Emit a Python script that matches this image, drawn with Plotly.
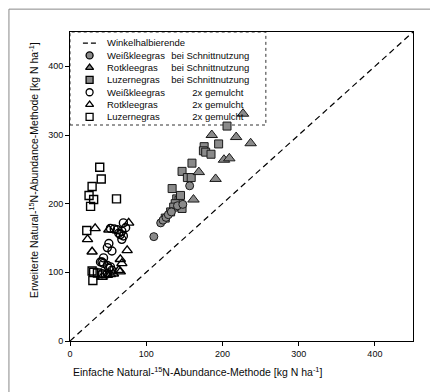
import plotly.graph_objects as go

# ---- data ----
wk_cut_x = [110, 157, 119, 122, 126, 129, 133, 141, 148]
wk_cut_y = [152, 226, 172, 176, 180, 184, 188, 197, 199]

rk_cut_x = [186, 227, 218, 237, 202, 209, 169, 191, 162]
rk_cut_y = [300, 331, 297, 288, 264, 266, 246, 236, 206]

lz_cut_x = [206, 195, 176, 175, 178, 185, 160, 147, 154, 159, 134, 140, 143, 145, 138, 136, 132, 147, 125]
lz_cut_y = [313, 287, 283, 277, 275, 272, 259, 247, 238, 238, 222, 207, 205, 212, 200, 195, 188, 193, 179]

wk_mul_x = [70, 53, 58, 62, 64, 68, 66, 70, 68, 51, 49, 55, 44, 42, 44, 49, 53, 40, 51, 55, 49, 42, 73]
wk_mul_y = [172, 164, 163, 162, 157, 160, 155, 153, 148, 142, 136, 131, 121, 115, 113, 110, 108, 115, 106, 103, 98, 98, 165]

rk_mul_x = [33, 23, 77, 51, 75, 29, 66, 68, 64, 66, 57, 49, 42, 53]
rk_mul_y = [164, 148, 172, 162, 132, 130, 119, 113, 103, 101, 98, 96, 93, 97]

lz_mul_x = [39, 41, 29, 25, 31, 27, 61, 22, 29, 31, 30, 43, 36]
lz_mul_y = [253, 236, 225, 212, 206, 196, 207, 161, 102, 100, 88, 96, 99]

diag = [0, 450]
ticks = [0, 100, 200, 300, 400]

legend_names = ["Winkelhalbierende", "Weißkleegras", "Rotkleegras", "Luzernegras",
                "Weißkleegras", "Rotkleegras", "Luzernegras"]
legend_suffix = ["bei Schnittnutzung", "bei Schnittnutzung", "bei Schnittnutzung",
                 "2x gemulcht", "2x gemulcht", "2x gemulcht"]

FONT = "Liberation Sans, Arial, sans-serif"
GRAY = "#8a8a8a"
EDGE = "#1a1a1a"
TXT = "#0a0a0a"

fig = go.Figure()

fig.add_trace(go.Scatter(x=diag, y=diag, mode="lines",
                         line=dict(color="black", width=1.2, dash="6px,4px"), hoverinfo="skip"))

def filled(x, y, sym, size=8):
    return go.Scatter(x=x, y=y, mode="markers",
                      marker=dict(symbol=sym, size=size, color=GRAY, line=dict(color=EDGE, width=1)))

def open_(x, y, sym, size=8):
    return go.Scatter(x=x, y=y, mode="markers",
                      marker=dict(symbol=sym, size=size, color="black", line=dict(color="black", width=1.4)))

fig.add_trace(filled(lz_cut_x, lz_cut_y, "square", 8))
fig.add_trace(filled(wk_cut_x, wk_cut_y, "circle", 8))
fig.add_trace(filled(rk_cut_x, rk_cut_y, "triangle-up", 10))
fig.add_trace(open_(wk_mul_x, wk_mul_y, "circle-open", 8))
fig.add_trace(open_(rk_mul_x, rk_mul_y, "triangle-up-open", 9))
fig.add_trace(open_(lz_mul_x, lz_mul_y, "square-open", 8))

# ---- legend built on its own small axes ----
idx = list(range(len(legend_names)))
sym_x = 0.10
fig.add_trace(go.Scatter(x=[0.066, 0.148], y=[idx[0], idx[0]], mode="lines", xaxis="x2", yaxis="y2",
                         line=dict(color="black", width=1.2, dash="5px,3px"), hoverinfo="skip"))
leg_syms = ["circle", "triangle-up", "square", "circle-open", "triangle-up-open", "square-open"]
leg_cols = [GRAY, GRAY, GRAY, "black", "black", "black"]
for i, (s, c) in enumerate(zip(leg_syms, leg_cols), start=1):
    fig.add_trace(go.Scatter(x=[sym_x], y=[idx[i]], mode="markers", xaxis="x2", yaxis="y2",
                             marker=dict(symbol=s, size=7, color=c,
                                         line=dict(color="black", width=1.3)), hoverinfo="skip"))
fig.add_trace(go.Scatter(x=[sym_x], y=[idx[1]], mode="markers", xaxis="x2", yaxis="y3",
                         marker=dict(size=1, opacity=0), hoverinfo="skip"))

suffix_text = [("\u00a0" * 8 + s) if s.startswith("2x") else s for s in legend_suffix]

axis_common = dict(showgrid=False, zeroline=False, showline=True, mirror=True,
                   linecolor="black", linewidth=1, ticks="outside", ticklen=4,
                   tickcolor="black", tickvals=ticks, range=[0, 450],
                   tickfont=dict(family=FONT, size=9, color=TXT))

fig.update_layout(
    width=430, height=392, autosize=False,
    margin=dict(l=70, r=17, t=32, b=51),
    paper_bgcolor="white", plot_bgcolor="rgba(0,0,0,0)",
    showlegend=False,
    font=dict(family=FONT, color=TXT),
    xaxis=axis_common,
    yaxis=axis_common,
    xaxis2=dict(domain=[0, 0.571], range=[0, 1], visible=False, anchor="y2"),
    yaxis2=dict(domain=[0.7055, 0.984], range=[6.5, -0.5], anchor="free", position=0.105,
                side="right", showgrid=False, zeroline=False, showline=False, ticks="",
                tickvals=idx, ticktext=legend_names,
                tickfont=dict(family=FONT, size=9.5, color=TXT)),
    yaxis3=dict(overlaying="y2", range=[6.5, -0.5], anchor="free", position=0.292,
                side="right", showgrid=False, zeroline=False, showline=False, ticks="",
                tickvals=idx[1:], ticktext=suffix_text,
                tickfont=dict(family=FONT, size=9.5, color=TXT)),
    shapes=[
        dict(type="rect", xref="paper", yref="paper", x0=0, x1=0.571, y0=0.699, y1=1.0,
             line=dict(color="#333", width=1, dash="dot"), fillcolor="white", layer="below"),
        dict(type="line", xref="paper", yref="paper", x0=-0.178, x1=1.05, y0=1.074, y1=1.074,
             line=dict(color="#888", width=1)),
        dict(type="line", xref="paper", yref="paper", x0=-0.178, x1=-0.178, y0=1.074, y1=-0.2,
             line=dict(color="#888", width=1)),
    ],
    annotations=[
        dict(text="Einfache Natural-<sup>15</sup>N-Abundance-Methode [kg N ha<sup>-1</sup>]",
             xref="paper", yref="paper", x=0.373, y=-0.100, showarrow=False,
             xanchor="center", yanchor="middle", font=dict(family=FONT, size=10.5, color=TXT)),
        dict(text="Erweiterte Natural-<sup>15</sup>N-Abundance-Methode [kg N ha<sup>-1</sup>]",
             xref="paper", yref="paper", x=-0.108, y=0.553, showarrow=False, textangle=-90,
             xanchor="center", yanchor="middle", font=dict(family=FONT, size=10.5, color=TXT)),
    ],
)

fig.write_html("out.html")
